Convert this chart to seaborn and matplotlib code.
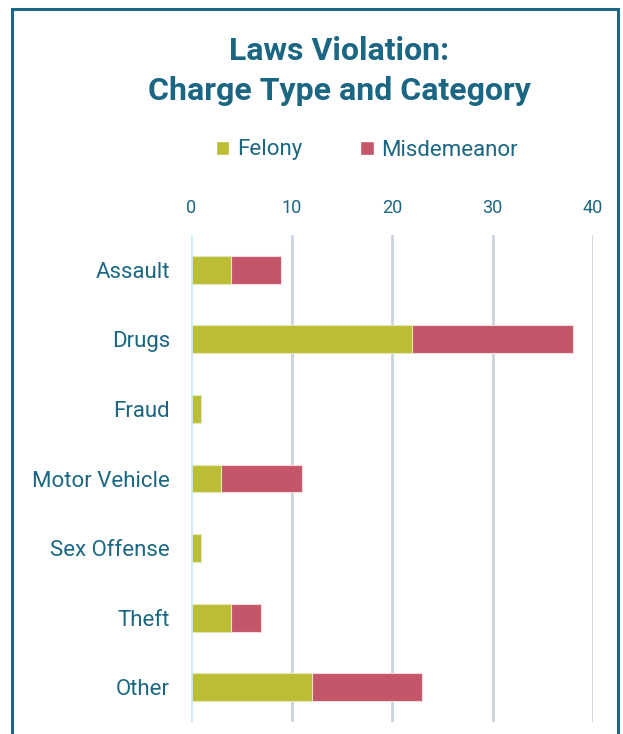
import matplotlib

matplotlib.use("Agg")
import matplotlib.pyplot as plt
import numpy as np
import pandas as pd
import seaborn as sns
from matplotlib.patches import Patch, Rectangle

# ---------------------------------------------------------------------------
# Data
# ---------------------------------------------------------------------------
categories = ["Assault", "Drugs", "Fraud", "Motor Vehicle", "Sex Offense", "Theft", "Other"]
felony = [4, 22, 1, 3, 1, 4, 12]
misdemeanor = [5, 16, 0, 8, 0, 3, 11]
x_ticks = [0, 10, 20, 30, 40]

TEAL = "#1b6783"
GREEN = "#bbbe34"
RED = "#c55569"

sns.set_theme(style="white")
plt.rcParams["font.family"] = ["Roboto", "DejaVu Sans"]

df = pd.DataFrame({"category": categories, "felony": felony, "misdemeanor": misdemeanor})
df["total"] = df["felony"] + df["misdemeanor"]

fig = plt.figure(figsize=(6.23, 7.34), dpi=100)
ax = fig.add_axes([191 / 623, 1 - 722 / 734, (593 - 191) / 623, (722 - 235) / 734])

# stacked: total (misdemeanor colour) underneath, felony on top
sns.barplot(data=df, y="category", x="total", color=RED, width=0.4, saturation=1,
            edgecolor="#f3dbe0", linewidth=0.8, ax=ax, zorder=3)
sns.barplot(data=df, y="category", x="felony", color=GREEN, width=0.4, saturation=1,
            edgecolor="#e4e6b8", linewidth=0.8, ax=ax, zorder=4)

ax.set_xlim(0, 40)
ax.set_ylim(6.5, -0.5)
ax.set_xticks(x_ticks)
ax.xaxis.tick_top()
ax.tick_params(axis="x", length=0, pad=13, labelsize=13, colors=TEAL)
ax.tick_params(axis="y", length=0, pad=15, labelsize=16, colors=TEAL)
ax.set_xlabel("")
ax.set_ylabel("")
for s in ax.spines.values():
    s.set_visible(False)
for xv in x_ticks[1:]:
    ax.axvline(xv, color="#c9d3df", linewidth=2, zorder=1)
ax.axvline(0, color="#c8eefa", linewidth=2, zorder=5)

# title and legend
fig.text(339 / 623, 1 - 51 / 734, "Laws Violation:", ha="center", va="center",
         fontsize=23, fontweight="bold", color=TEAL)
fig.text(339 / 623, 1 - 91 / 734, "Charge Type and Category", ha="center", va="center",
         fontsize=23, fontweight="bold", color=TEAL)
handles = [Patch(facecolor=GREEN, label="Felony"), Patch(facecolor=RED, label="Misdemeanor")]
fig.legend(handles=handles, loc="center", bbox_to_anchor=(367 / 623, 1 - 150 / 734),
           ncol=2, frameon=False, fontsize=16, labelcolor=TEAL, handlelength=0.6,
           handleheight=0.6, handletextpad=0.35, columnspacing=2.6)

# outer frame
fig.patches.append(Rectangle((12 / 623, -0.05), (618 - 12) / 623, 1.05 - 9 / 734,
                             transform=fig.transFigure, fill=False,
                             edgecolor=TEAL, linewidth=2.2))

fig.savefig("out.png", dpi=100)
